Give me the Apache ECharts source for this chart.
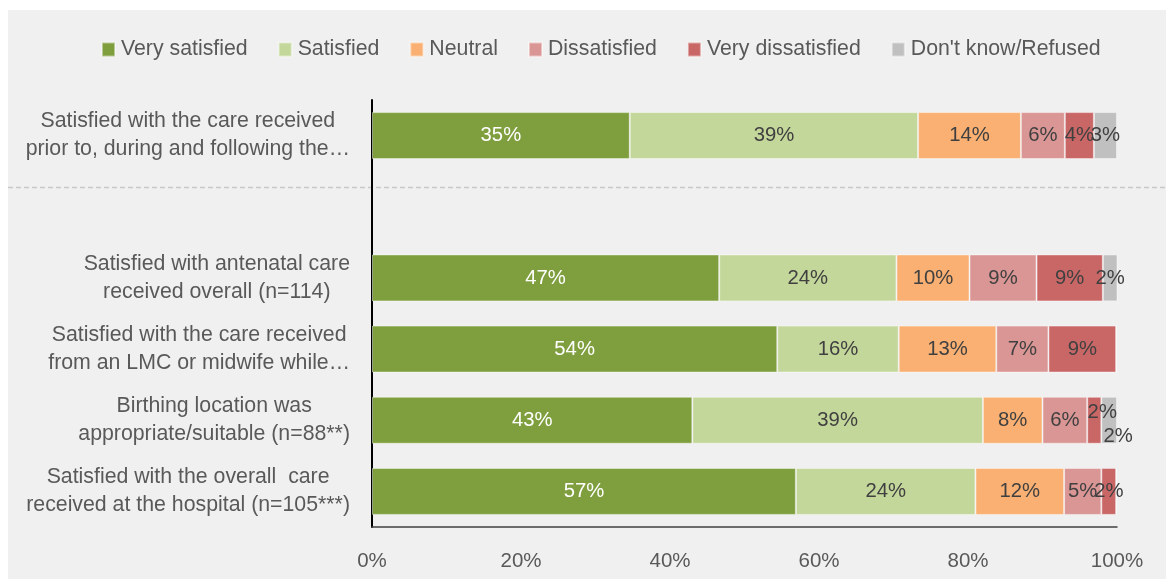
<!DOCTYPE html>
<html>
<head>
<meta charset="utf-8">
<script src="https://cdn.jsdelivr.net/npm/echarts@6/dist/echarts.min.js"></script>
<style>
html,body{margin:0;padding:0;background:#ffffff;}
#chart{width:1166px;height:579px;}
</style>
</head>
<body>
<div id="chart"></div>
<script>
// Categories (top to bottom); the empty string is the spacer row under the dashed divider
const categories = [
  'Satisfied with the care received\nprior to, during and following the…',
  '',
  'Satisfied with antenatal care\nreceived overall (n=114)',
  'Satisfied with the care received\nfrom an LMC or midwife while…',
  'Birthing location was\nappropriate/suitable (n=88**)',
  'Satisfied with the overall  care\nreceived at the hospital (n=105***)'
];
const seriesNames = ['Very satisfied', 'Satisfied', 'Neutral', 'Dissatisfied', 'Very dissatisfied', "Don't know/Refused"];
// Percentages per category (null = spacer row)
const verySatisfied    = [34.6, null, 46.6, 54.4, 43.0, 56.9];
const satisfied        = [38.7, null, 23.8, 16.3, 39.0, 24.1];
const neutral          = [13.8, null,  9.8, 13.1,  8.0, 11.9];
const dissatisfied     = [ 5.9, null,  9.0,  7.0,  6.0,  5.0];
const veryDissatisfied = [ 3.9, null,  8.9,  9.1,  1.9,  2.0];
const dontKnow         = [ 3.1, null,  2.0,  0,    2.1,  0];
const xTicks = [0, 20, 40, 60, 80, 100];

const colors = ['#7F9F3F', '#C4D79B', '#F9B072', '#DA9694', '#C96767', '#C0C0C0'];
const allData = [verySatisfied, satisfied, neutral, dissatisfied, veryDissatisfied, dontKnow];
const FONT = "'Liberation Sans', Arial, sans-serif";

const chart = echarts.init(document.getElementById('chart'), null, {renderer: 'canvas'});

// Excel nudged two crowded labels on the "Birthing location" row
const nudges = {'4-4': [8, -8], '5-4': [9, 16]};

const series = seriesNames.map((name, si) => ({
  name: name,
  type: 'bar',
  stack: 'total',
  barCategoryGap: '34%',
  itemStyle: {color: colors[si], borderColor: 'rgba(255,255,255,0.45)', borderWidth: 1},
  label: {
    show: true,
    position: 'inside',
    fontFamily: FONT,
    fontSize: 20.3,
    color: si === 0 ? '#ffffff' : '#404040',
    formatter: p => (p.value == null || p.value === 0) ? '' : Math.round(p.value) + '%'
  },
  emphasis: {disabled: true},
  data: allData[si].map((v, ci) => {
    const key = si + '-' + ci;
    if (nudges[key]) return {value: v, label: {offset: nudges[key]}};
    return v;
  })
}));

const option = {
  animation: false,
  backgroundColor: 'transparent',
  textStyle: {fontFamily: FONT},
  color: colors,
  graphic: [
    {type: 'rect', z: -100, silent: true, shape: {x: 8, y: 10, width: 1158, height: 569}, style: {fill: '#F0F0F0'}},
    {type: 'line', z: 0, silent: true, shape: {x1: 8, y1: 187.5, x2: 1166, y2: 187.5}, style: {stroke: '#C8C8C8', lineWidth: 1.5, lineDash: [5, 3]}}
  ],
  legend: {
    data: seriesNames,
    top: 34,
    left: 96,
    itemWidth: 13,
    itemHeight: 14,
    itemGap: 30,
    icon: 'rect',
    textStyle: {fontFamily: FONT, fontSize: 21.3, color: '#595959', padding: [0, 0, 0, 1]}
  },
  grid: {left: 372, right: 49, top: 100, bottom: 52, containLabel: false},
  xAxis: {
    type: 'value',
    min: xTicks[0],
    max: xTicks[xTicks.length - 1],
    interval: 20,
    splitLine: {show: false},
    axisTick: {show: false},
    axisLine: {show: true, lineStyle: {color: '#404040', width: 1.5}},
    axisLabel: {formatter: '{value}%', fontFamily: FONT, fontSize: 20.5, color: '#595959', margin: 24}
  },
  yAxis: {
    type: 'category',
    inverse: true,
    data: categories,
    axisTick: {show: false},
    axisLine: {show: true, lineStyle: {color: '#000000', width: 2}},
    axisLabel: {
      align: 'right',
      margin: 22,
      formatter: v => v === '' ? '' : v.split('\n').map(l => '{c|' + l + '}').join('\n'),
      rich: {c: {align: 'center', fontFamily: FONT, fontSize: 21.3, color: '#595959', lineHeight: 28}}
    }
  },
  series: series
};
chart.setOption(option);
</script>
</body>
</html>
